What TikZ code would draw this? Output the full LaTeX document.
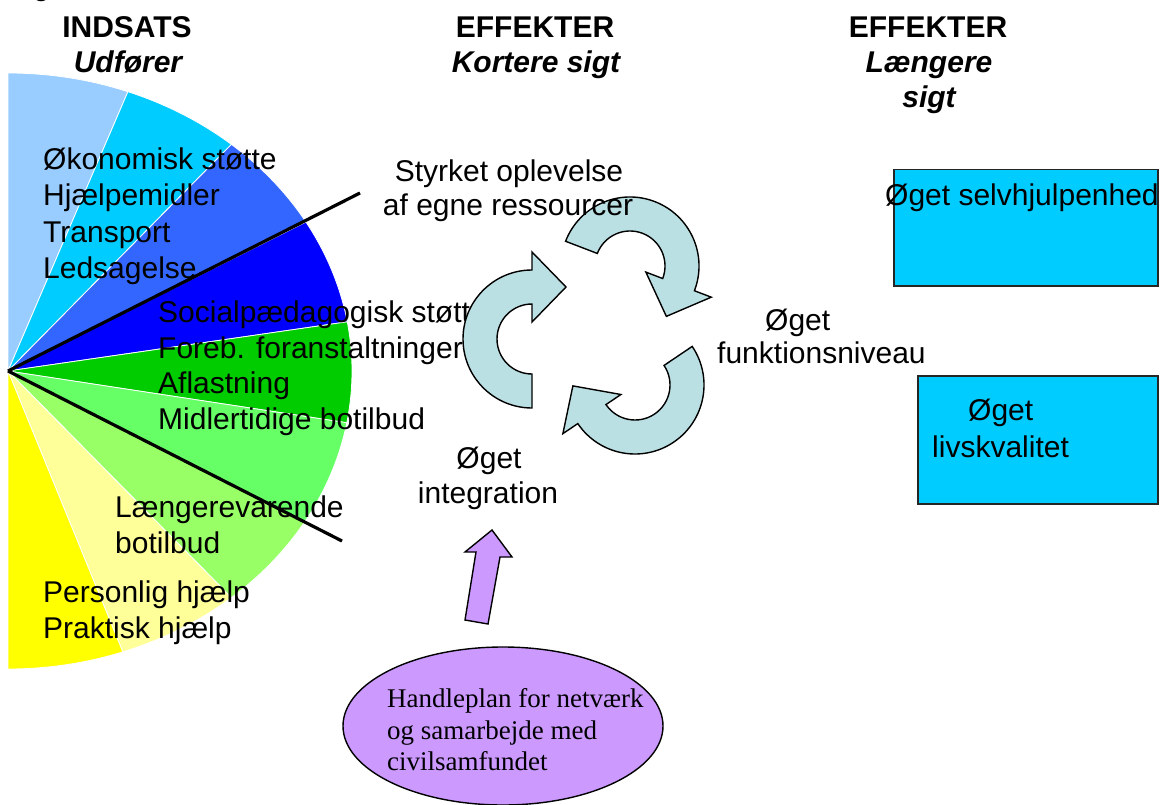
\documentclass[tikz,border=0pt]{standalone}
\usepackage{fontspec}
\setmainfont{Liberation Sans}
\newfontfamily\timesfont{Liberation Serif}
\definecolor{pieA}{HTML}{99CCFF}
\definecolor{pieB}{HTML}{00CCFF}
\definecolor{pieC}{HTML}{3366FF}
\definecolor{pieD}{HTML}{0000FF}
\definecolor{pieE}{HTML}{00CC00}
\definecolor{pieF}{HTML}{66FF66}
\definecolor{pieG}{HTML}{99FF66}
\definecolor{pieH}{HTML}{FFFF99}
\definecolor{pieI}{HTML}{FFFF00}
\definecolor{cyc}{RGB}{187,224,227}
\definecolor{lilac}{HTML}{CC99FF}
\definecolor{boxc}{HTML}{00CCFF}
\tikzset{
  cyclearrow/.pic={
    \filldraw[cycarrow] (270:35pt) -- (270:69pt)
      arc[start angle=270, end angle=90, radius=69pt]
      -- (0pt,87pt) -- (34pt,52pt) -- (0pt,17pt) -- (0pt,35pt)
      arc[start angle=90, end angle=270, radius=35pt] -- cycle;
  }
}
\begin{document}
\begin{tikzpicture}[x=1pt,y=1pt,
  lbl/.style={inner sep=0pt, font=\fontsize{30}{36}\selectfont},
  lw/.style={lbl, anchor=base west},
  lc/.style={lbl, anchor=base},
  ttl/.style={lc, font=\fontsize{30}{36}\selectfont\bfseries},
  ttli/.style={lc, font=\fontsize{30}{36}\selectfont\bfseries\itshape},
  tms/.style={inner sep=0pt, anchor=base west, font=\fontsize{27}{32}\selectfont\timesfont},
  effbox/.style={draw=black!85, line width=1.5pt, fill=boxc, inner sep=0pt, anchor=north west},
  cycarrow/.style={fill=cyc, draw=black, line width=1.4pt, line join=miter},
  sepline/.style={line width=3.2pt}
]
\useasboundingbox (0,0) rectangle (1164,-805);

% cut-off caption remnant
\node[lw] (gcut) at (33,4) {g};

% pie
\coordinate (pc) at (8,-371);
\foreach \a/\b/\c in {90/69.6/pieA, 69.6/49.5/pieB, 49.5/30/pieC, 30/9.5/pieD, 9.5/-10/pieE, -10/-30.5/pieF, -30.5/-49.5/pieG, -49.5/-70.5/pieH, -70.5/-90/pieI}
  \filldraw[fill=\c, draw=white, line width=0.8pt] (pc) -- +(\a:344pt and 298pt)
    arc[start angle=\a, end angle=\b, x radius=344pt, y radius=298pt] -- cycle;

\coordinate (l1) at (360,-193);
\coordinate (l2) at (342,-541);
\draw[sepline] (pc) -- (l1);
\draw[sepline] (pc) -- (l2);

% titles
\node[ttl]  (t1a) at (127,-38) {INDSATS};
\node[ttli] (t1b) at (128,-73) {Udfører};
\node[ttl]  (t2a) at (535,-38) {EFFEKTER};
\node[ttli] (t2b) at (536,-73) {Kortere sigt};
\node[ttl]  (t3a) at (928,-38) {EFFEKTER};
\node[ttli] (t3b) at (929,-73) {Længere};
\node[ttli] (t3c) at (929,-108) {sigt};

% pie texts
\node[lw] (p1) at (43,-170) {Økonomisk støtte};
\node[lw] (p2) at (43,-206) {Hjælpemidler};
\node[lw] (p3) at (43,-242) {Transport};
\node[lw] (p4) at (43,-278) {Ledsagelse};
\node[lw] (p5) at (158,-322) {Socialpædagogisk støtte};
\node[lw] (p6) at (158,-358) {Foreb. foranstaltninger};
\node[lw] (p7) at (158,-393) {Aflastning};
\node[lw] (p8) at (158,-429) {Midlertidige botilbud};
\node[lw] (p9) at (115,-517) {Længerevarende};
\node[lw] (p10) at (115,-553) {botilbud};
\node[lw] (p11) at (43,-602) {Personlig hjælp};
\node[lw] (p12) at (43,-638) {Praktisk hjælp};

% cycle arrows
\pic (cycL) at (532,-339) {cyclearrow};
\pic[rotate=-111] (cycT) at (630,-266) {cyclearrow};
\pic[rotate=-236] (cycB) at (635,-385) {cyclearrow};

% short-term effects
\node[lc] (s1) at (509,-182) {Styrket oplevelse};
\node[lc] (s2) at (508,-215) {af egne ressourcer};
\node[lw] (f1) at (765,-330) {Øget};
\node[lw] (f2) at (717,-363) {funktionsniveau};
\node[lc] (i1) at (489,-468) {Øget};
\node[lc] (i2) at (488,-503) {integration};

% long-term effects
\node[effbox, minimum width=264pt, minimum height=116pt] (box1) at (893,-169) {};
\node[lw] (b1) at (885,-205) {Øget selvhjulpenhed};
\node[effbox, minimum width=240pt, minimum height=128pt] (box2) at (917,-375) {};
\node[lw] (b2a) at (968,-420) {Øget};
\node[lw] (b2b) at (932,-457) {livskvalitet};

% action plan
\filldraw[fill=lilac, draw=black, line width=1.4pt] (492,-530) -- (512,-557) -- (500,-557)
  -- (488,-624) -- (465,-620) -- (476,-552) -- (465,-552) -- cycle;
\filldraw[fill=lilac, draw=black, line width=1.4pt] (503,-726) ellipse [x radius=160pt, y radius=79pt];
\node[tms] (h1) at (387,-707) {Handleplan for netværk};
\node[tms] (h2) at (387,-739) {og samarbejde med};
\node[tms] (h3) at (387,-770) {civilsamfundet};
\end{tikzpicture}
\end{document}
